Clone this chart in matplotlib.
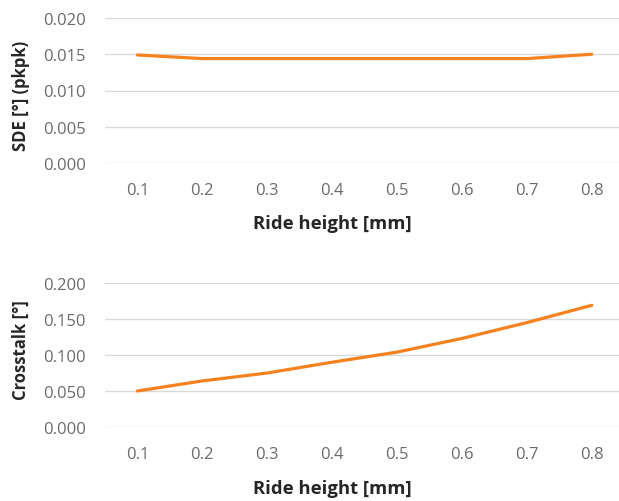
import matplotlib
matplotlib.use("Agg")
import matplotlib.pyplot as plt

categories = ["0.1", "0.2", "0.3", "0.4", "0.5", "0.6", "0.7", "0.8"]
sde_values = [0.0149, 0.0144, 0.0144, 0.0144, 0.0144, 0.0144, 0.0144, 0.0150]
crosstalk_values = [0.050, 0.064, 0.075, 0.090, 0.104, 0.123, 0.145, 0.169]
sde_ticks = [0.000, 0.005, 0.010, 0.015, 0.020]
crosstalk_ticks = [0.000, 0.050, 0.100, 0.150, 0.200]

plt.rcParams['font.family'] = ['Open Sans', 'DejaVu Sans']

W, H = 619, 502
fig = plt.figure(figsize=(W / 100, H / 100), dpi=100)
fig.patch.set_facecolor('white')

ORANGE = '#F5821F'
GRID = '#D9D9D9'
TICK = '#6B6B6B'
LABEL = '#262626'

def make_axes(top_px, bottom_px, values, ticks, ylabel, ylabel_y, xlabel_y, fmt):
    left_px, right_px = 105, 619
    ax = fig.add_axes([left_px / W, 1 - bottom_px / H,
                       (right_px - left_px) / W, (bottom_px - top_px) / H])
    x = list(range(len(categories)))
    ax.plot(x, values, color=ORANGE, lw=2.3, solid_capstyle='round', zorder=3,
            clip_on=False)
    ax.set_xlim(-0.5, 7.42)
    ax.set_ylim(ticks[0], ticks[-1])
    ax.set_yticks(ticks)
    ax.set_yticklabels([fmt.format(t) for t in ticks])
    ax.set_xticks(x)
    ax.set_xticklabels(categories)
    for s in ax.spines.values():
        s.set_visible(False)
    ax.grid(axis='y', color=GRID, lw=1.0, zorder=0)
    ax.tick_params(axis='both', length=0, labelsize=12, labelcolor=TICK)
    ax.tick_params(axis='y', pad=14)
    ax.tick_params(axis='x', pad=14)
    ax.set_facecolor('none')
    fig.text(332 / W, 1 - xlabel_y / H, "Ride height [mm]", fontsize=13.3,
             fontweight='bold', color=LABEL, ha='center', va='center')
    fig.text(21 / W, 1 - ylabel_y / H, ylabel, fontsize=12, fontweight='bold',
             color=LABEL, ha='center', va='center', rotation=90)
    return ax

ax1 = make_axes(19, 164, sde_values, sde_ticks, "SDE [°] (pkpk)", 96, 224, "{:.3f}")
ax2 = make_axes(284, 428, crosstalk_values, crosstalk_ticks, "Crosstalk [°]", 350, 489, "{:.3f}")

fig.savefig("out.png", dpi=100, facecolor='white')
